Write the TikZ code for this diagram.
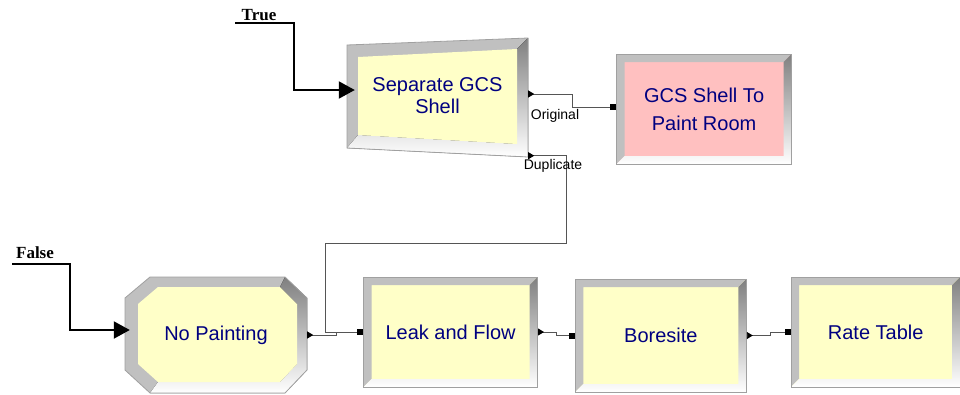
\documentclass[tikz,border=0pt]{standalone}
\usepackage{fontspec}
\usetikzlibrary{arrows.meta,calc,positioning}
\newfontfamily\arenafont{Liberation Sans}
\newfontfamily\tagfont{Liberation Serif}
\definecolor{cream}{RGB}{255,255,200}
\definecolor{rose}{RGB}{255,192,192}
\definecolor{lite}{RGB}{192,192,192}
\definecolor{shade}{RGB}{128,128,128}
\definecolor{rim}{RGB}{160,160,160}
\definecolor{ink}{RGB}{0,0,128}
\definecolor{wire}{RGB}{85,85,85}
\tikzset{
  bevel/.style={path picture={
    \fill[lite] (path picture bounding box.south west) |- (path picture bounding box.north east)
      -- ++(-8pt,-8pt) -| ([shift={(8pt,8pt)}]path picture bounding box.south west) -- cycle;
    \fill[shade] (path picture bounding box.south west) -| (path picture bounding box.north east)
      -- ++(-8pt,-8pt) |- ([shift={(8pt,8pt)}]path picture bounding box.south west) -- cycle;}},
  blocktext/.style={text=ink,align=center,inner sep=0pt,font=\arenafont\fontsize{20}{22}\selectfont},
  block/.style={blocktext,draw=rim,line width=0.8pt,fill=cream,bevel},
  tagtext/.style={font=\tagfont\bfseries\fontsize{17}{19}\selectfont},
  portname/.style={font=\arenafont\fontsize{14}{16}\selectfont},
  cond/.style={line width=2pt,-{Triangle[length=16pt,width=17pt]}},
  link/.style={draw=wire,line width=0.9pt,{Triangle[reversed,length=6pt,width=7pt,color=black]}-{Square[length=6pt,width=6pt,color=black]}},
}
\begin{document}
\begin{tikzpicture}[x=1pt,y=-1pt]
\useasboundingbox (0,0) rectangle (960,394);
% separate module body
\fill[lite] (347,45) -- (528,38) -- (528,157) -- (347,148) -- cycle;
\fill[shade] (347,148) -- (528,157) -- (528,38) -- (517,49) -- (517,144) -- (358,135) -- cycle;
\fill[cream] (358,57) -- (517,49) -- (517,144) -- (358,135) -- cycle;
\draw[rim,line width=0.8pt] (347,45) -- (528,38) -- (528,157) -- (347,148) -- cycle;
\node[blocktext,minimum width=181pt,minimum height=119pt] (sep) at (437.5,96) {Separate GCS\\Shell};
% no painting body
\fill[lite] (150,277) -- (285,277) -- (307,298) -- (307,370) -- (285,393) -- (150,393) -- (125,370) -- (125,298) -- cycle;
\fill[shade] (285,277) -- (307,298) -- (307,370) -- (285,393) -- (150,393) -- (158,382) -- (280,382) -- (297,364) -- (297,304) -- (280,287) -- cycle;
\fill[cream] (158,287) -- (280,287) -- (297,304) -- (297,364) -- (280,382) -- (158,382) -- (138,364) -- (138,304) -- cycle;
\draw[rim,line width=0.8pt] (150,277) -- (285,277) -- (307,298) -- (307,370) -- (285,393) -- (150,393) -- (125,370) -- (125,298) -- cycle;
\node[blocktext,minimum width=182pt,minimum height=116pt] (nop) at (216,335) {No Painting};

\node[block,fill=rose,right=88pt of sep,yshift=-13pt,minimum width=175pt,minimum height=110pt] (gcs) {GCS Shell To\\[6pt]Paint Room};
\node[block,right=56pt of nop,yshift=3pt,minimum width=174pt,minimum height=110pt] (leak) {Leak and Flow};
\node[block,right=37pt of leak,yshift=-3.5pt,minimum width=171pt,minimum height=113pt] (bore) {Boresite};
\node[block,right=44pt of bore,yshift=3.5pt,minimum width=169pt,minimum height=110pt] (rate) {Rate Table};

\coordinate (truein) at (235,23);
\coordinate (falsein) at (12,264);
\node[tagtext] (truetag) at (259,15) {True};
\node[tagtext] (falsetag) at (35,253) {False};
\draw[cond] (truein) -- ++(59,0) |- ([xshift=8pt,yshift=6pt]sep.west);
\draw[cond] (falsein) -- ++(58,0) |- ([xshift=5pt,yshift=5pt]nop.west);

\draw[link] ([yshift=2pt]sep.east) -- ++(44,0) |- ([yshift=2pt]gcs.west);
\node[portname] (origtag) at (555,116) {Original};
\draw[draw=wire,line width=0.9pt,{Triangle[reversed,length=6pt,width=7pt,color=black]}-] (sep.south east) -- ++(38,0) -- ++(0,88) -| ([xshift=-38pt]leak.west) -- ([xshift=-27pt]leak.west);
\node[portname] (duptag) at (553,166) {Duplicate};
\draw[link] (nop.east) -- ++(29,0) |- (leak.west);
\draw[link] (leak.east) -- ++(18,0) |- (bore.west);
\draw[link] (bore.east) -- ++(24,0) |- (rate.west);
\end{tikzpicture}
\end{document}
